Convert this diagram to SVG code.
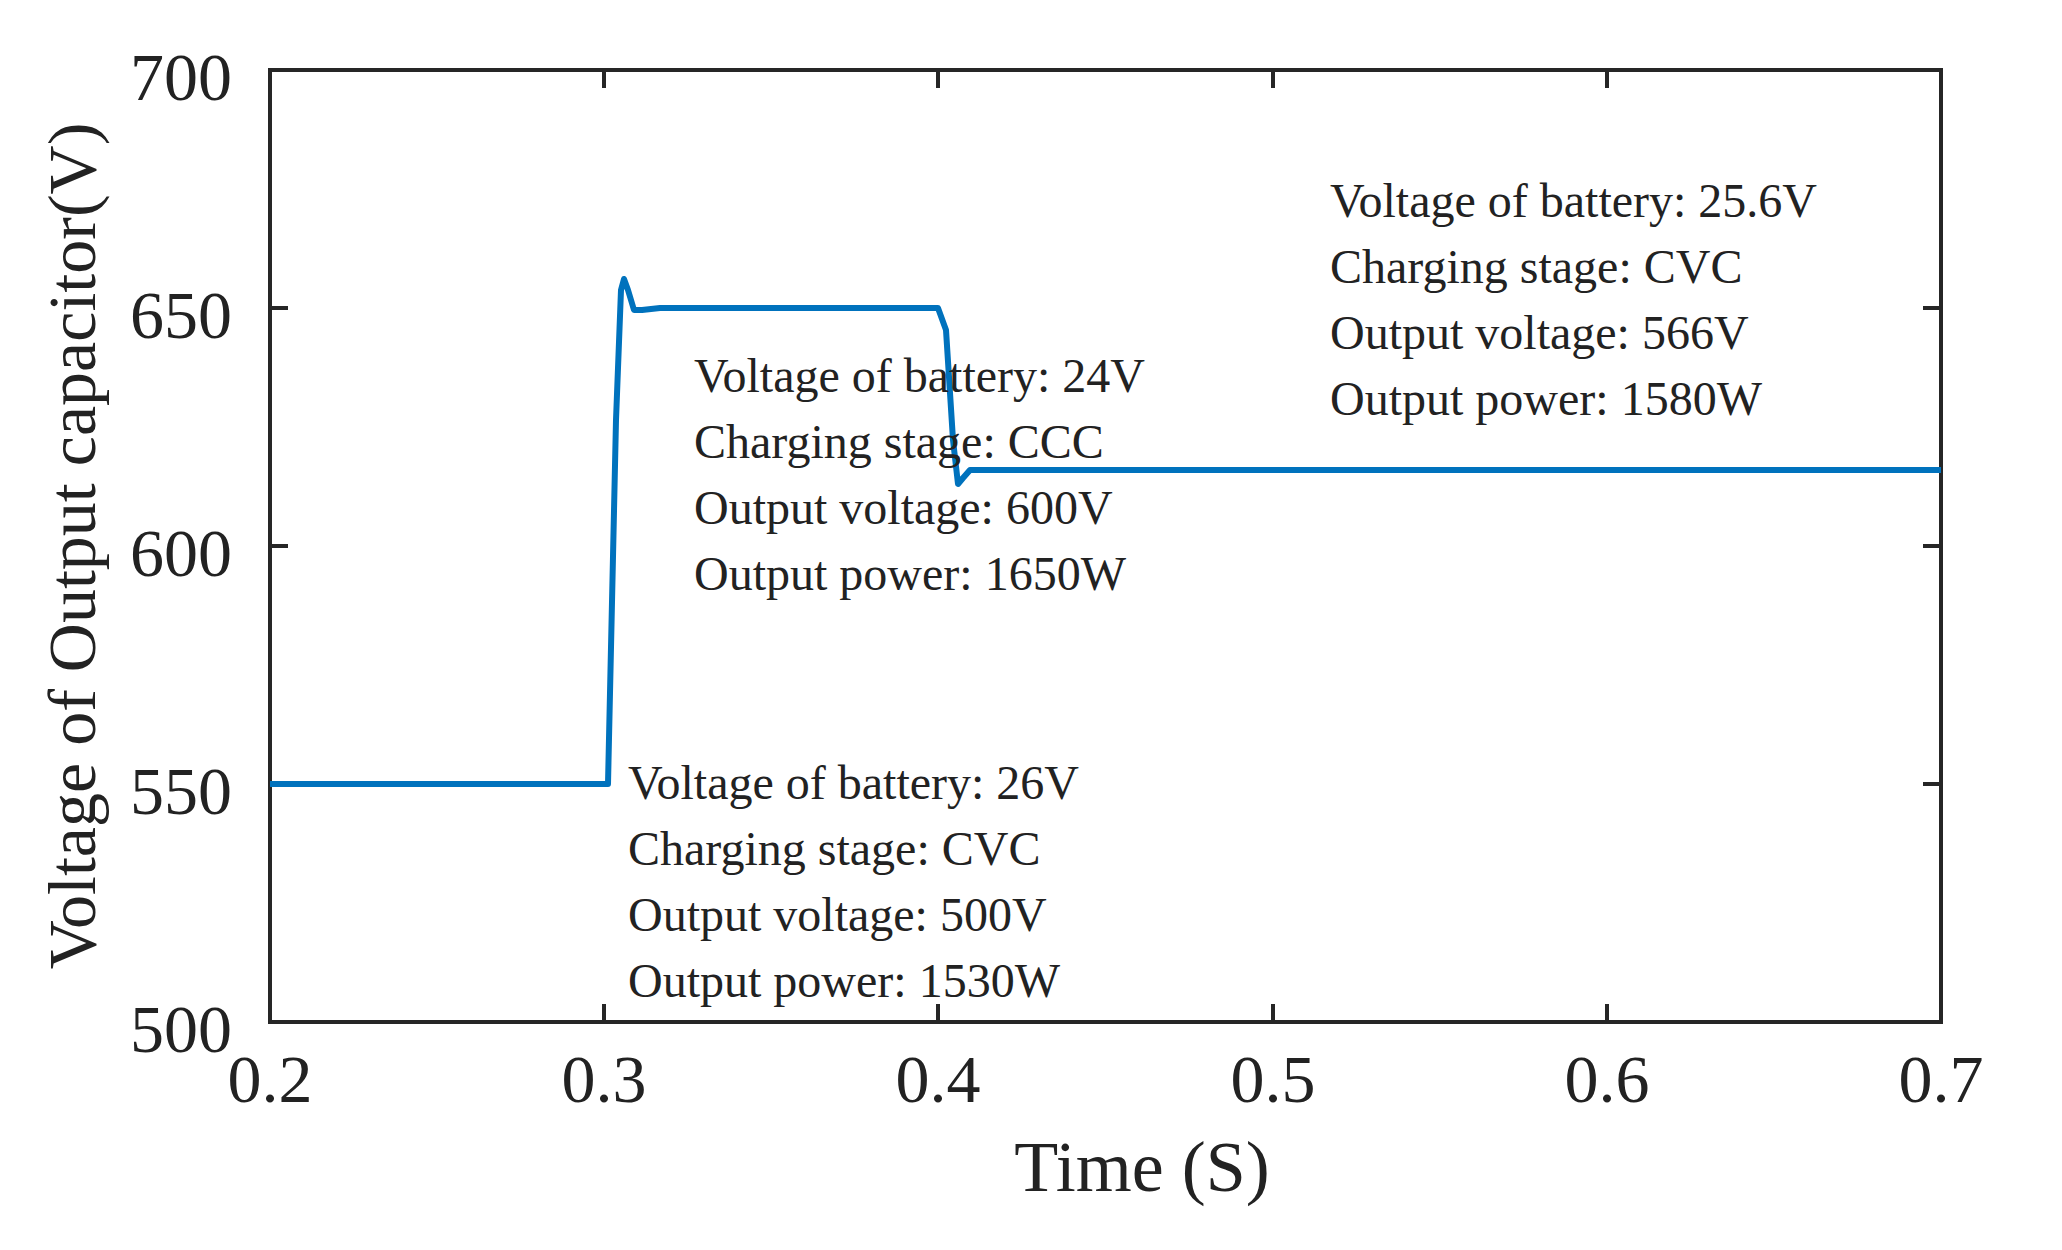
<svg xmlns="http://www.w3.org/2000/svg" width="2062" height="1250" viewBox="0 0 2062 1250">
<style>
text{font-family:"Liberation Serif","Times New Roman",serif;fill:#222}
.t{font-size:68px}
.a{font-size:48px}
.ax{stroke:#262626;stroke-width:4;fill:none}
</style>
<rect width="2062" height="1250" fill="#fff"/>
<g id="axes">
<rect class="ax" x="270" y="70" width="1671" height="952"/>
<path class="ax" d="M604,1022v-18M938,1022v-18M1273,1022v-18M1607,1022v-18M604,70v18M938,70v18M1273,70v18M1607,70v18M270,308h18M270,546h18M270,784h18M1941,308h-18M1941,546h-18M1941,784h-18"/>
</g>
<g id="ticklabels" class="t" text-anchor="end">
<text x="232" y="100">700</text>
<text x="232" y="338">650</text>
<text x="232" y="576">600</text>
<text x="232" y="814">550</text>
<text x="232" y="1052">500</text>
</g>
<g class="t" text-anchor="middle">
<text x="270" y="1102">0.2</text>
<text x="604" y="1102">0.3</text>
<text x="938" y="1102">0.4</text>
<text x="1273" y="1102">0.5</text>
<text x="1607" y="1102">0.6</text>
<text x="1941" y="1102">0.7</text>
<text x="1142" y="1191" font-size="72">Time (S)</text>
<text transform="translate(95,546) rotate(-90)" font-size="68">Voltage of Output capacitor(V)</text>
</g>
<g id="curve">
<path d="M270,784H604L608,784L616,420L621,290L624,279L628,290L634,310L642,310L660,308H938L946,330L953,440L958,484L963,478L970,470H1941" fill="none" stroke="#0072BD" stroke-width="6" stroke-linejoin="round"/>
</g>
<g id="note1" class="a">
<text x="694" y="392">Voltage of battery: 24V</text>
<text x="694" y="458">Charging stage: CCC</text>
<text x="694" y="524">Output voltage: 600V</text>
<text x="694" y="590">Output power: 1650W</text>
</g>
<g id="note2" class="a">
<text x="1330" y="217">Voltage of battery: 25.6V</text>
<text x="1330" y="283">Charging stage: CVC</text>
<text x="1330" y="349">Output voltage: 566V</text>
<text x="1330" y="415">Output power: 1580W</text>
</g>
<g id="note3" class="a">
<text x="628" y="799">Voltage of battery: 26V</text>
<text x="628" y="865">Charging stage: CVC</text>
<text x="628" y="931">Output voltage: 500V</text>
<text x="628" y="997">Output power: 1530W</text>
</g>
</svg>
